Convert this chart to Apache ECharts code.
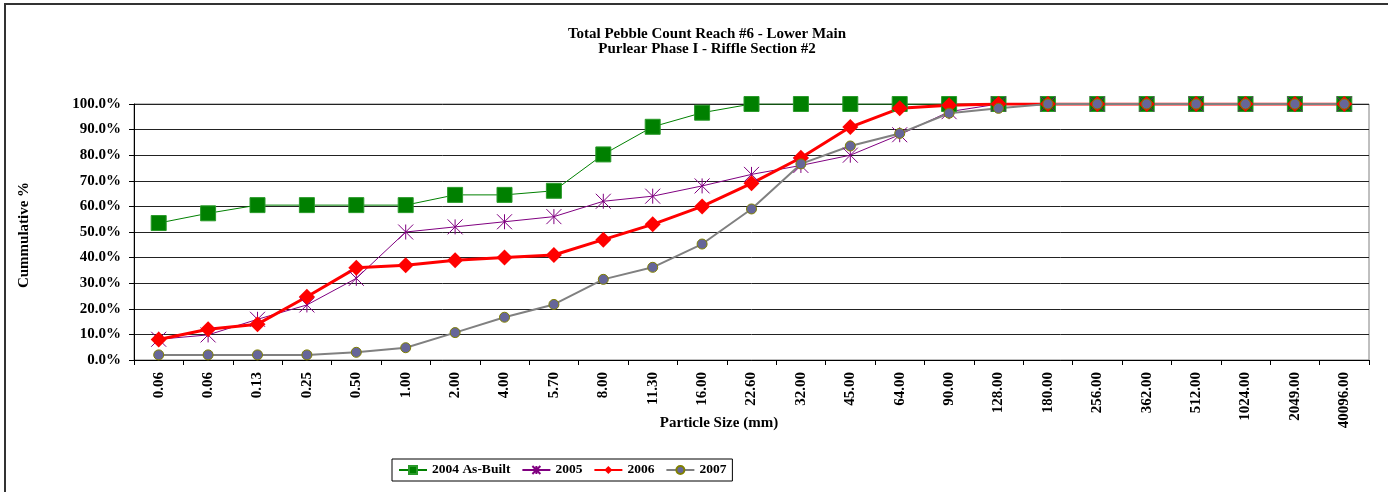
<!DOCTYPE html>
<html><head><meta charset="utf-8">
<script src="https://cdn.jsdelivr.net/npm/echarts@6/dist/echarts.min.js"></script>
<style>html,body{margin:0;padding:0;background:#fff}#c{width:1388px;height:492px}</style>
</head><body><div id="c"></div>
<script>
var categories = ['0.06','0.06','0.13','0.25','0.50','1.00','2.00','4.00','5.70','8.00','11.30','16.00','22.60','32.00','45.00','64.00','90.00','128.00','180.00','256.00','362.00','512.00','1024.00','2049.00','40096.00'];
var s2004 = [53.5,57.3,60.5,60.5,60.5,60.5,64.5,64.5,66.1,80.3,91.1,96.6,100,100,100,100,100,100,100,100,100,100,100,100,100];
var s2005 = [8.1,9.8,15.9,21.5,31.9,50,52,54,56,62,64,68,72.5,76,80,88,97,100,100,100,100,100,100,100,100];
var s2006 = [8,12,14,24.7,36,37,39,40,41,47,53,60,69,79,91,98.3,99.5,100,100,100,100,100,100,100,100];
var s2007 = [2,2,2,2,3,4.8,10.7,16.7,21.7,31.5,36.2,45.3,59,76.6,83.6,88.5,96.4,98.3,100,100,100,100,100,100,100];
var seriesNames = ['2004 As-Built','2005','2006','2007'];
var titleText = 'Total Pebble Count Reach #6 - Lower Main\nPurlear Phase I - Riffle Section #2';

var FONT = '"Liberation Serif", "Times New Roman", serif';
var chart = echarts.init(document.getElementById('c'), null, {renderer:'canvas'});
var star = 'path://M0 0L10 10M10 0L0 10M5 0L5 10';
chart.setOption({
  animation: false,
  backgroundColor: '#fff',
  title: {
    text: titleText, left: 702, top: 22, textAlign: 'center',
    textStyle: {fontFamily: FONT, fontSize: 15, fontWeight: 'bold', color: '#000', lineHeight: 15}
  },
  graphic: [
    {type:'rect', shape:{x:5, y:4, width:2000, height:2000}, style:{fill:'none', stroke:'#333', lineWidth:2}, silent:true},
    {type:'text', x:24, y:235, rotation:Math.PI/2, style:{text:'Cummulative %', font:'bold 15px ' + FONT, fill:'#000', textAlign:'center', textVerticalAlign:'middle'}},
    {type:'text', x:719, y:423, style:{text:'Particle Size (mm)', font:'bold 15px ' + FONT, fill:'#000', textAlign:'center', textVerticalAlign:'middle'}}
  ],
  legend: {
    left: 392, top: 459,
    data: seriesNames,
    itemWidth: 28, itemHeight: 10, itemGap: 11,
    padding: [4, 6, 4, 6],
    borderColor: '#000', borderWidth: 1,
    textStyle: {fontFamily: FONT, fontSize: 13.5, fontWeight: 'bold', color: '#000'}
  },
  grid: {left: 134, right: 19, top: 104, bottom: 132, show: true, borderColor: '#808080', borderWidth: 1, backgroundColor: '#fff'},
  xAxis: {
    type: 'category', data: categories, boundaryGap: true,
    axisLine: {lineStyle: {color: '#000', width: 1}},
    axisTick: {show: true, interval: 0, length: 5, lineStyle: {color: '#000'}},
    axisLabel: {interval: 0, rotate: 90, margin: 12, fontFamily: FONT, fontSize: 15, fontWeight: 'bold', color: '#000'},
    splitLine: {show: false}
  },
  yAxis: {
    type: 'value', min: 0, max: 100, interval: 10,
    axisLine: {show: true, lineStyle: {color: '#000', width: 1}},
    axisTick: {show: true, length: 5, lineStyle: {color: '#000'}},
    axisLabel: {margin: 13, formatter: function(v){return v.toFixed(1) + '%';}, fontFamily: FONT, fontSize: 15, fontWeight: 'bold', color: '#000'},
    splitLine: {show: true, lineStyle: {color: '#222', width: 1}}
  },
  series: [
    {name: seriesNames[0], type: 'line', data: s2004, symbol: 'rect', symbolSize: 15,
     lineStyle: {color: '#008000', width: 1}, itemStyle: {color: '#008000', borderColor: '#2a9a2a', borderWidth: 1}},
    {name: seriesNames[1], type: 'line', data: s2005, symbol: star, symbolSize: 15,
     lineStyle: {color: '#800080', width: 1}, itemStyle: {color: '#800080', borderColor: '#800080', borderWidth: 1}},
    {name: seriesNames[2], type: 'line', data: s2006, symbol: 'diamond', symbolSize: 16,
     lineStyle: {color: '#ff0000', width: 3}, itemStyle: {color: '#ff0000', borderColor: '#ff0000', borderWidth: 0}},
    {name: seriesNames[3], type: 'line', data: s2007, symbol: 'circle', symbolSize: 10,
     lineStyle: {color: '#808080', width: 2}, itemStyle: {color: '#666699', borderColor: '#808000', borderWidth: 1}}
  ]
});
</script>
</body></html>
